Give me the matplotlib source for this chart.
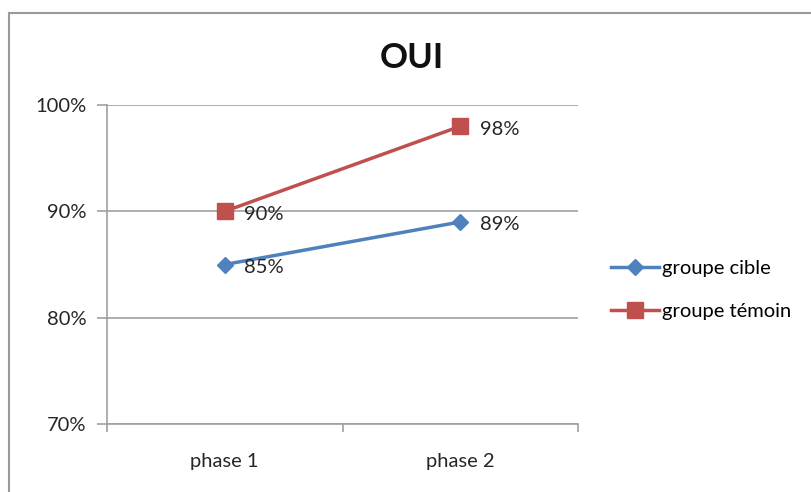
import matplotlib
matplotlib.use("Agg")
import matplotlib.pyplot as plt
from matplotlib.patches import Rectangle
from matplotlib.ticker import FuncFormatter

categories = ["phase 1", "phase 2"]
cible = [85, 89]
temoin = [90, 98]
series_names = ["groupe cible", "groupe témoin"]
title = "OUI"
yticks = [70, 80, 90, 100]

plt.rcParams['font.family'] = ['Lato', 'DejaVu Sans']
FS = 14.5
TXT = '#262626'

W, H = 811, 492
fig = plt.figure(figsize=(W / 100, H / 100), dpi=100)

# outer chart frame (extends beyond the image on right/bottom)
fig.patches.append(Rectangle((8.5 / W, -0.1), 1.2, 1 - 12.5 / H + 0.1,
                             transform=fig.transFigure, fill=False,
                             edgecolor='#9a9a9a', linewidth=1.5))

ax = fig.add_axes([107 / W, 1 - 424 / H, (578 - 107) / W, (424 - 105) / H])
x = [0.5, 1.5]
ax.set_xlim(0, 2)
ax.set_ylim(70, 100)

blue = '#4F81BD'
red = '#C0504D'
ax.plot(x, cible, color=blue, lw=2.5, marker='D', markersize=8, label=series_names[0], zorder=3)
ax.plot(x, temoin, color=red, lw=2.5, marker='s', markersize=11, label=series_names[1], zorder=3)

for xi, v in zip(x, cible):
    ax.annotate(f"{v}%", (xi, v), xytext=(14, -2), textcoords='offset points',
                va='center', ha='left', fontsize=FS, color=TXT)
for xi, v in zip(x, temoin):
    ax.annotate(f"{v}%", (xi, v), xytext=(14, -2), textcoords='offset points',
                va='center', ha='left', fontsize=FS, color=TXT)

ax.set_yticks(yticks)
ax.yaxis.set_major_formatter(FuncFormatter(lambda v, p: f"{int(v)}%"))
ax.set_xticks(x)
ax.set_xticklabels(categories)
ax.set_xticks([0, 1, 2], minor=True)
ax.tick_params(axis='x', which='major', length=0, pad=21, labelsize=FS, labelcolor=TXT)
ax.tick_params(axis='x', which='minor', length=6, width=1.2, color='#a0a0a0', direction='out')
ax.tick_params(axis='y', length=7, width=1.2, color='#a0a0a0', labelsize=FS, labelcolor=TXT, pad=8)

ax.grid(axis='y', color='#a0a0a0', linewidth=1.2)
ax.set_axisbelow(True)
for s in ['top', 'right']:
    ax.spines[s].set_visible(False)
for s in ['left', 'bottom']:
    ax.spines[s].set_color('#a0a0a0')
    ax.spines[s].set_linewidth(1.2)

fig.text(412 / W, 1 - 58 / H, title, ha='center', va='center', fontsize=25, fontweight='bold', color='#111111')

fig.legend(loc='center left', bbox_to_anchor=(611 / W, 1 - 290 / H), frameon=False,
           fontsize=FS, handlelength=2.4, handletextpad=0.15, labelspacing=1.3,
           borderaxespad=0, borderpad=0)

fig.savefig('out.png', dpi=100)
